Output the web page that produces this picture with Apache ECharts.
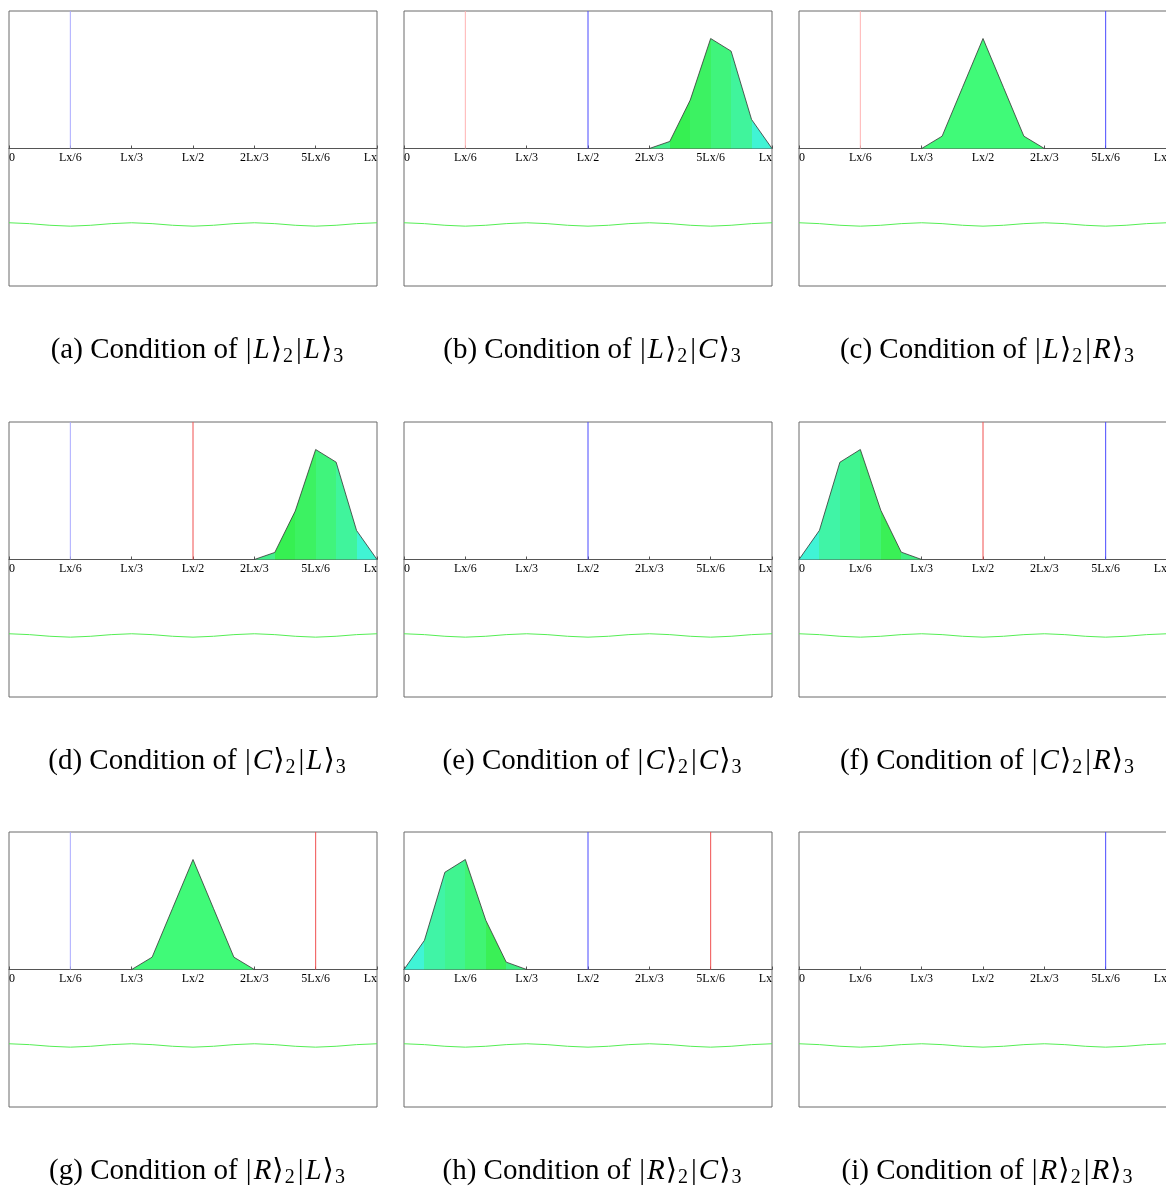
<!DOCTYPE html>
<html>
<head>
<meta charset="utf-8">
<script src="https://cdn.jsdelivr.net/npm/echarts@6/dist/echarts.min.js"></script>
<style>
html,body{margin:0;padding:0;background:#fff;}
#c{width:1166px;height:1189px;}
</style>
</head>
<body>
<div id="c"></div>
<script>
// ---------- data ----------
// x positions are in units of Lx/18
const xTickValues = [0, 3, 6, 9, 12, 15, 18];
const xTickLabels = ['0', 'Lx/6', 'Lx/3', 'Lx/2', '2Lx/3', '5Lx/6', 'Lx'];

// probability density (normalized, peak = 1)
const peakLeftX = [0, 1, 2, 3, 4, 5, 6];
const peakLeftY = [0, 0.265, 0.884, 1.0, 0.448, 0.067, 0];
const peakMidX = [6, 7, 8, 9, 10, 11, 12];
const peakMidY = [0, 0.112, 0.556, 1.0, 0.556, 0.112, 0];
const peakRightX = [12, 13, 14, 15, 16, 17, 18];
const peakRightY = [0, 0.064, 0.44, 1.0, 0.885, 0.264, 0];

// band colours (phase) for each Lx/18 slice of the density
const bandLeft = ['#40f4d6', '#40f4a6', '#40f490', '#40f474', '#3af056', '#40f082'];
const bandMid = ['#40fa78', '#40fa78', '#40fa78', '#40fa78', '#40fa78', '#40fa78'];
const bandRight = ['#42f08a', '#36f052', '#3cf262', '#40f47c', '#40f49c', '#40f4d4'];

// potential (lower curve) sampled at Lx/18 steps
const waveX = [0,1,2,3,4,5,6,7,8,9,10,11,12,13,14,15,16,17,18];
const waveY = [-0.675,-0.683,-0.698,-0.706,-0.698,-0.683,-0.675,-0.683,-0.698,-0.706,-0.698,-0.683,-0.675,-0.683,-0.698,-0.706,-0.698,-0.683,-0.675];

// panel captions
const captionLetters = ['a','b','c','d','e','f','g','h','i'];
const firstKet = ['L','L','L','C','C','C','R','R','R'];
const secondKet = ['L','C','R','L','C','R','L','C','R'];

// density per panel: 'left' | 'mid' | 'right' | null
const panelPeak = [null, 'right', 'mid', 'right', null, 'left', 'mid', 'left', null];
// vertical markers per panel: [position, colour kind]
const panelMarkers = [
  [[3, 'blueFaint']],
  [[3, 'redFaint'], [9, 'blue']],
  [[3, 'redFaint'], [15, 'blue']],
  [[3, 'blueFaint'], [9, 'red']],
  [[9, 'blue']],
  [[9, 'red'], [15, 'blue']],
  [[3, 'blueFaint'], [15, 'red']],
  [[9, 'blue'], [15, 'red']],
  [[15, 'blue']]
];

// ---------- styling ----------
const markerColors = { blue: '#4a4aff', red: '#f05050', blueFaint: '#aaaaff', redFaint: '#ffb2b2' };
const colLeft = [9, 404, 799];
const rowTop = [11, 422, 832];
const boxW = 368, boxH = 275;
const YMAX = 1.25;
const serif = '"Liberation Serif", "DejaVu Serif", serif';

const peaks = {
  left: { x: peakLeftX, y: peakLeftY, c: bandLeft },
  mid: { x: peakMidX, y: peakMidY, c: bandMid },
  right: { x: peakRightX, y: peakRightY, c: bandRight }
};

function bandGradient(cols) {
  const stops = [];
  const n = cols.length;
  cols.forEach((c, k) => {
    stops.push({ offset: k / n, color: c });
    stops.push({ offset: (k + 1) / n, color: c });
  });
  return new echarts.graphic.LinearGradient(0, 0, 1, 0, stops);
}

const grids = [], xAxes = [], yAxes = [], series = [], titles = [];

for (let p = 0; p < 9; p++) {
  const col = p % 3, row = Math.floor(p / 3);
  grids.push({
    left: colLeft[col], top: rowTop[row], width: boxW, height: boxH,
    show: true, borderColor: '#6a6a6a', borderWidth: 1, backgroundColor: '#fff',
    containLabel: false, outerBoundsMode: 'none'
  });
  xAxes.push({
    type: 'value', gridIndex: p, min: 0, max: 18, interval: 3,
    position: 'bottom', offset: -boxH / 2,
    axisLine: { show: true, onZero: false, lineStyle: { color: '#555', width: 1 } },
    axisTick: { show: true, inside: true, length: 3, lineStyle: { color: '#555' } },
    axisLabel: {
      show: true, margin: 3, color: '#000', fontFamily: serif, fontSize: 12,
      alignMinLabel: 'left', alignMaxLabel: 'right', hideOverlap: false,
      formatter: v => { const i = xTickValues.indexOf(Math.round(v)); return i >= 0 ? xTickLabels[i] : ''; }
    },
    splitLine: { show: false }
  });
  yAxes.push({
    type: 'value', gridIndex: p, min: -YMAX, max: YMAX, show: false,
    splitLine: { show: false }
  });

  // potential curve
  series.push({
    type: 'line', xAxisIndex: p, yAxisIndex: p, symbol: 'none', silent: true,
    lineStyle: { color: '#55ee55', width: 1 },
    data: waveX.map((x, i) => [x, waveY[i]]), z: 2
  });

  // density
  const pk = panelPeak[p];
  if (pk) {
    const d = peaks[pk];
    series.push({
      type: 'line', xAxisIndex: p, yAxisIndex: p, symbol: 'none', silent: true,
      lineStyle: { color: '#333', width: 0.8 },
      areaStyle: { color: bandGradient(d.c), opacity: 1 },
      data: d.x.map((x, i) => [x, d.y[i]]), z: 3
    });
  }

  // vertical markers
  panelMarkers[p].forEach(m => {
    series.push({
      type: 'line', xAxisIndex: p, yAxisIndex: p, symbol: 'none', silent: true,
      lineStyle: { color: markerColors[m[1]], width: 1 },
      data: [[m[0], 0], [m[0], YMAX]], z: 4
    });
  });

  // caption
  titles.push({
    left: colLeft[col] + boxW / 2, top: rowTop[row] + boxH + 41,
    textAlign: 'center',
    text: '(' + captionLetters[p] + ') Condition of {b||}{i|' + firstKet[p] + '}{k|⟩}{s|2}{b||}{i|' + secondKet[p] + '}{k|⟩}{s|3}',
    textStyle: {
      fontFamily: serif, fontSize: 29, fontWeight: 'normal', color: '#000', lineHeight: 36,
      rich: {
        b: { fontFamily: serif, fontSize: 29, color: '#000', lineHeight: 36, padding: [0, 1, 0, 1] },
        i: { fontFamily: serif, fontSize: 29, fontStyle: 'italic', color: '#000', lineHeight: 36, padding: [0, 1, 0, 1] },
        k: { fontFamily: serif, fontSize: 29, color: '#000', lineHeight: 36, padding: [0, 1, 0, 0] },
        s: { fontFamily: serif, fontSize: 20, color: '#000', lineHeight: 36, padding: [13, 2, 0, 0] }
      }
    }
  });
}

const chart = echarts.init(document.getElementById('c'), null, { renderer: 'canvas' });
chart.setOption({
  animation: false,
  backgroundColor: '#fff',
  title: titles,
  grid: grids,
  xAxis: xAxes,
  yAxis: yAxes,
  series: series
});
</script>
</body>
</html>
